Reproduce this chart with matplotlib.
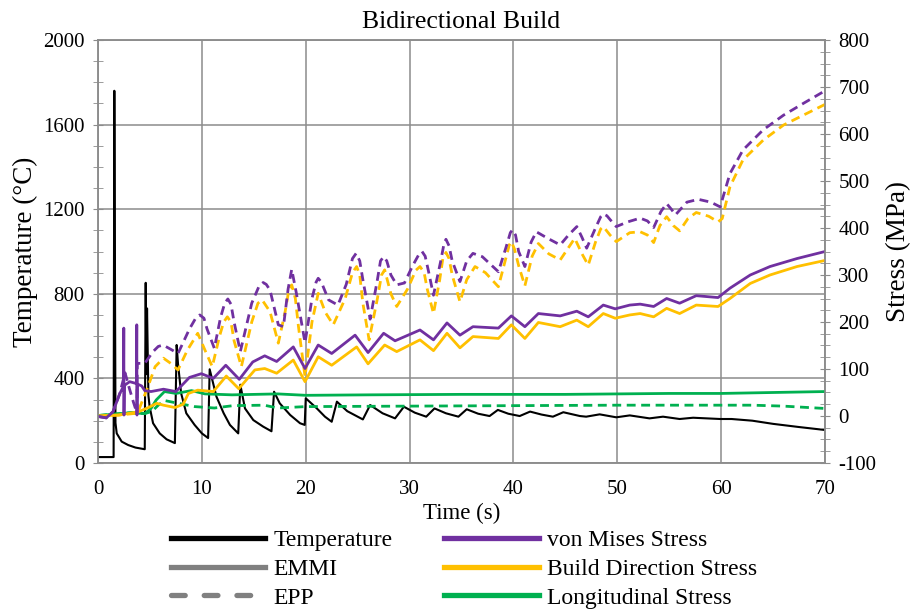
import matplotlib
matplotlib.use('Agg')
import matplotlib.pyplot as plt
from matplotlib.lines import Line2D
from matplotlib.ticker import MultipleLocator

plt.rcParams['font.family'] = ['Liberation Serif', 'DejaVu Serif']
plt.rcParams['axes.unicode_minus'] = False

# Temperature (left axis)
temp_t = [0, 1.5, 1.57, 1.68, 1.8, 2.28, 2.9, 3.6, 4.5, 4.59, 4.65, 4.72, 4.85, 4.97, 5.3, 5.94,
          6.6, 7.4, 7.57, 7.7, 8.0, 8.5, 9.3, 10.0, 10.6, 10.75, 11.4, 12.1, 12.7, 13.5, 13.7,
          14.15, 14.95, 15.9, 16.7, 16.95, 17.5, 18.5, 19.45, 19.9, 20.0, 21.05, 21.85, 22.5,
          23.0, 24.0, 25.5, 26.2, 27.4, 28.6, 29.45, 30.5, 31.6, 32.4, 33.5, 34.7, 35.5, 36.6,
          37.7, 38.5, 39.5, 40.6, 41.6, 42.7, 43.8, 44.8, 46.4, 47.0, 48.3, 49.9, 51.2, 53.1,
          54.4, 56.0, 57.3, 59.9, 61.0, 63.0, 65.0, 67.5, 70.0]
temp_v = [28, 28, 1760, 190, 140, 101, 85, 73, 65, 852, 420, 731, 320, 266, 188, 140,
          112, 94, 558, 470, 330, 235, 180, 140, 118, 443, 314, 235, 180, 140, 370,
          258, 203, 172, 150, 337, 282, 227, 188, 180, 306, 259, 219, 195,
          290, 245, 206, 274, 235, 211, 266, 238, 219, 258, 235, 219, 254, 233,
          222, 251, 233, 222, 243, 229, 219, 240, 222, 219, 230, 216, 225, 211,
          219, 208, 214, 208, 208, 200, 185, 170, 156]

# von Mises stress, EMMI
vm_emmi_t = [0, 0.8, 1.44, 2.1, 2.45, 2.48, 2.5, 2.53, 3.05, 3.7, 3.73, 3.75, 3.78, 4.2, 4.5, 5.1,
             6.3, 7.5, 8.8, 9.95, 11.1, 12.3, 13.6, 14.9, 16.05, 17.2, 18.8, 19.93, 21.2, 22.5,
             24.75, 26.0, 27.5, 28.6, 31.0, 32.3, 33.6, 34.85, 36.1, 38.55, 39.8, 41.1, 42.4,
             44.5, 46.1, 47.2, 48.65, 49.8, 51.2, 52.2, 53.5, 54.75, 56.0, 57.6, 59.7, 60.85,
             62.8, 64.7, 67.3, 70.0]
vm_emmi_v = [-1, -4, 9, 48, 63, 187, 2, 65, 73, 69, 194, 2, 68, 64, 54, 52,
             57, 52, 82, 90, 80, 108, 78, 115, 128, 116, 147, 101, 151, 133,
             172, 135, 176, 160, 183, 162, 198, 172, 190, 187, 213, 190, 218,
             213, 223, 211, 236, 228, 236, 238, 233, 250, 240, 256, 252, 272,
             300, 318, 335, 350]

# von Mises stress, EPP
vm_epp_t = [0, 0.8, 1.44, 2.1, 2.6, 3.0, 3.4, 3.75, 3.78, 4.5, 5.3, 5.8, 6.26, 7.0, 7.7, 8.8, 9.4,
            9.8, 10.2, 10.5, 11.2, 11.8, 12.2, 12.5, 12.8, 13.1, 13.7, 14.8, 15.5, 15.9, 16.2,
            16.56, 17.36, 17.85, 18.3, 18.65, 19.1, 19.93, 20.6, 21.0, 21.2, 21.5, 22.2, 23.1,
            23.9, 24.5, 24.85, 25.2, 25.5, 26.2, 26.9, 27.2, 27.5, 27.8, 28.2, 28.76, 29.5, 30.3,
            30.9, 31.2, 31.5, 31.8, 32.3, 33.0, 33.3, 33.5, 33.8, 34.1, 34.85, 35.5, 36.1, 37.0,
            38.55, 39.3, 39.7, 39.9, 40.2, 40.5, 41.1, 41.7, 42.2, 43.3, 44.5, 45.3, 46.1, 46.6,
            47.05, 47.9, 48.4, 48.65, 49.0, 49.3, 49.9, 51.0, 52.2, 52.9, 53.5, 54.2, 54.75, 55.2,
            55.6, 56.7, 57.8, 59.0, 59.9, 60.85, 62.1, 64.05, 66.0, 67.9, 70.0]
vm_epp_v = [-1, -4, 9, 48, 92, 60, 30, 6, 112, 112, 137, 148, 151, 142, 133, 185, 208,
            215, 208, 185, 144, 210, 240, 249, 238, 200, 137, 240, 276, 284, 280,
            268, 194, 190, 270, 312, 261, 156, 250, 285, 293, 285, 247, 236,
            280, 335, 346, 330, 290, 206, 290, 330, 339, 330, 300, 279, 283, 320,
            344, 350, 340, 310, 257, 330, 365, 376, 362, 330, 286, 330, 346, 339,
            307, 360, 390, 396, 385, 350, 318, 370, 392, 378, 364, 385, 403, 380,
            357, 400, 424, 430, 426, 418, 403, 413, 421, 415, 401, 435, 452, 440,
            428, 455, 461, 455, 445, 516, 566, 609, 640, 665, 692]

# Build direction stress, EMMI
bd_emmi_t = [0, 2.0, 3.9, 4.85, 5.65, 6.3, 7.4, 8.2, 8.7, 9.6, 11.1, 12.35, 13.55, 15.1, 16.05,
             17.2, 18.8, 19.93, 21.2, 22.5, 24.9, 26.0, 27.6, 28.76, 31.0, 32.3, 33.6, 34.85,
             36.1, 38.55, 39.8, 41.1, 42.4, 44.5, 46.1, 47.2, 48.65, 49.8, 51.2, 52.2, 53.5,
             54.75, 56.0, 57.6, 59.7, 60.85, 62.8, 64.7, 67.3, 70.0]
bd_emmi_v = [0, 2, 9, 18, 27, 23, 18, 25, 48, 55, 52, 85, 58, 98, 101,
             91, 119, 73, 126, 108, 147, 111, 151, 137, 162, 139, 176, 145,
             169, 165, 194, 165, 199, 190, 204, 190, 218, 208, 215, 218, 211,
             229, 218, 236, 233, 250, 282, 300, 318, 331]

# Build direction stress, EPP
bd_epp_t = [0, 2.0, 3.8, 4.8, 5.5, 6.3, 7.0, 7.7, 8.6, 9.6, 10.3, 11.0, 11.7, 12.1, 12.45, 12.8,
            13.1, 13.8, 14.8, 15.4, 15.8, 16.56, 17.36, 18.0, 18.35, 18.65, 19.0, 19.3, 19.93,
            20.6, 21.2, 21.9, 22.65, 23.8, 24.5, 24.9, 25.2, 25.5, 26.1, 26.9, 27.3, 27.6, 28.2,
            28.76, 29.8, 30.6, 31.0, 31.4, 31.7, 32.3, 32.9, 33.2, 33.5, 33.8, 34.1, 34.85,
            35.5, 36.3, 37.3, 38.55, 39.2, 39.6, 39.8, 40.1, 40.5, 41.1, 41.8, 42.4, 43.4, 44.5,
            45.2, 45.9, 46.6, 47.2, 47.9, 48.4, 48.65, 49.3, 49.9, 51.2, 52.2, 52.9, 53.5, 54.1,
            54.75, 55.4, 56.0, 56.8, 57.6, 58.8, 59.7, 60.1, 60.85, 62.1, 64.05, 66.0, 67.9,
            70.0]
bd_epp_v = [0, 2, 6, 62, 105, 123, 112, 98, 140, 176, 140, 105, 170, 200, 211, 200,
            160, 105, 200, 240, 247, 222, 155, 220, 265, 279, 250, 190, 84,
            200, 261, 220, 194, 250, 305, 318, 300, 240, 162, 250, 300, 311, 260,
            233, 270, 310, 318, 305, 270, 218, 290, 335, 348, 335, 300, 243,
            290, 318, 305, 275, 330, 364, 371, 355, 320, 277, 340, 367, 345, 332,
            355, 378, 345, 321, 370, 398, 403, 385, 371, 390, 392, 385, 369, 405,
            424, 405, 394, 420, 433, 425, 413, 420, 488, 545, 587, 619, 640,
            663]

# Longitudinal stress, EMMI
lg_emmi_t = [0, 3.2, 4.5, 5.1, 5.6, 6.4, 7.5, 9.0, 10.3, 12.9, 17.3, 20, 26, 35, 45, 55, 60, 65, 70]
lg_emmi_v = [1, 7, 5, 16, 34, 52, 48, 54, 47, 45, 47, 44, 45, 46, 46, 48, 48, 50, 52]

# Longitudinal stress, EPP
lg_epp_t = [0, 3.2, 4.5, 5.2, 5.8, 6.4, 7.7, 9.3, 11.2, 13, 16, 17.3, 20, 30, 40, 50, 60, 63, 66, 70]
lg_epp_v = [1, 7, 5, 10, 23, 33, 27, 20, 17, 22, 23, 17, 20, 21, 22, 23, 23, 23, 21, 16]

purple = '#7030A0'
yellow = '#FFC000'
green = '#00B050'
grid_gray = '#8C8C8C'
dash = (0, (3.2, 2.0))

fig = plt.figure(figsize=(9.17, 6.10), dpi=100)
ax = fig.add_axes([0.1069, 0.241, 0.7928, 0.6934])
ax2 = ax.twinx()

ax.plot(temp_t, temp_v, color='black', lw=1.5)

ax2.plot(lg_epp_t, lg_epp_v, color=green, lw=2.0, linestyle=dash)
ax2.plot(lg_emmi_t, lg_emmi_v, color=green, lw=2.0)
ax2.plot(bd_epp_t, bd_epp_v, color=yellow, lw=2.0, linestyle=dash)
ax2.plot(bd_emmi_t, bd_emmi_v, color=yellow, lw=2.0)
ax2.plot(vm_epp_t, vm_epp_v, color=purple, lw=2.0, linestyle=dash)
ax2.plot(vm_emmi_t, vm_emmi_v, color=purple, lw=2.0)

ax.set_xlim(0, 70)
ax.set_ylim(0, 2000)
ax2.set_ylim(-100, 800)
ax.xaxis.set_major_locator(MultipleLocator(10))
ax.yaxis.set_major_locator(MultipleLocator(400))
ax.yaxis.set_minor_locator(MultipleLocator(100))
ax2.yaxis.set_major_locator(MultipleLocator(100))
ax2.yaxis.set_minor_locator(MultipleLocator(25))

ax.grid(True, color=grid_gray, lw=1.1)
ax.set_axisbelow(True)
for a in (ax, ax2):
    for s in a.spines.values():
        s.set_color(grid_gray)
        s.set_linewidth(1.1)
ax.tick_params(axis='x', length=0, labelsize=15, pad=12)
ax.tick_params(axis='y', which='major', direction='inout', length=7, color=grid_gray, labelsize=15, pad=6)
ax.tick_params(axis='y', which='minor', direction='inout', length=7, color=grid_gray)
ax2.tick_params(axis='y', which='major', direction='inout', length=7, color=grid_gray, labelsize=15, pad=6)
ax2.tick_params(axis='y', which='minor', direction='inout', length=7, color=grid_gray)

ax.set_xlabel('Time (s)', fontsize=16.5, labelpad=3)
ax.set_ylabel('Temperature (°C)', fontsize=19.5, labelpad=4)
ax2.set_ylabel('Stress (MPa)', fontsize=19.5, labelpad=7)
ax.set_title('Bidirectional Build', fontsize=18.5, pad=9)

h1 = [Line2D([], [], color='black', lw=3.8),
      Line2D([], [], color='#808080', lw=3.8),
      Line2D([], [], color='#808080', lw=3.8, linestyle=(0, (2.6, 3.6)), dash_capstyle='round')]
h2 = [Line2D([], [], color=purple, lw=3.8),
      Line2D([], [], color=yellow, lw=3.8),
      Line2D([], [], color=green, lw=3.8)]
leg1 = fig.legend(h1, ['Temperature', 'EMMI', 'EPP'], loc='upper left',
                  bbox_to_anchor=(0.176, 0.147), frameon=False, fontsize=17,
                  handlelength=4.0, handletextpad=0.35, labelspacing=0.3, borderaxespad=0)
leg2 = fig.legend(h2, ['von Mises Stress', 'Build Direction Stress', 'Longitudinal Stress'],
                  loc='upper left', bbox_to_anchor=(0.474, 0.147), frameon=False, fontsize=17,
                  handlelength=4.0, handletextpad=0.35, labelspacing=0.3, borderaxespad=0)

fig.savefig('out.png', dpi=100)
